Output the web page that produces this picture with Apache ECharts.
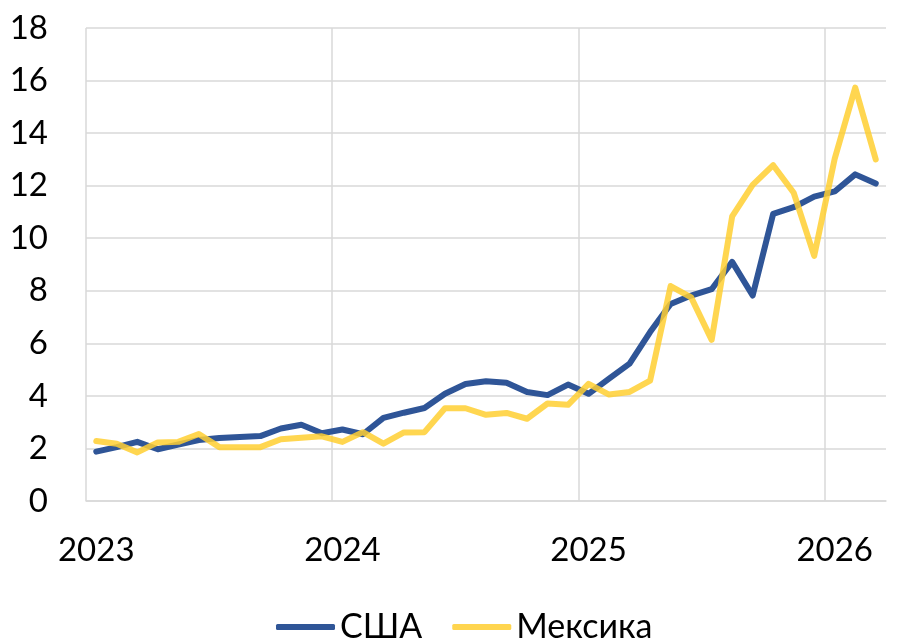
<!DOCTYPE html>
<html>
<head>
<meta charset="utf-8">
<script src="https://cdn.jsdelivr.net/npm/echarts@6/dist/echarts.min.js"></script>
<style>
html, body { margin: 0; padding: 0; background: #fff; }
#chart { width: 897px; height: 639px; }
</style>
</head>
<body>
<div id="chart"></div>
<script>
var months = [
    '2023-01', '2023-02', '2023-03', '2023-04', '2023-05', '2023-06', '2023-07', '2023-08', '2023-09', '2023-10', '2023-11', '2023-12',
    '2024-01', '2024-02', '2024-03', '2024-04', '2024-05', '2024-06', '2024-07', '2024-08', '2024-09', '2024-10', '2024-11', '2024-12',
    '2025-01', '2025-02', '2025-03', '2025-04', '2025-05', '2025-06', '2025-07', '2025-08', '2025-09', '2025-10', '2025-11', '2025-12',
    '2026-01', '2026-02', '2026-03'
];
var usa = [
    1.88, 2.05, 2.25, 1.97, 2.15, 2.32, 2.4, 2.44, 2.47, 2.76, 2.9, 2.58,
    2.72, 2.54, 3.16, 3.36, 3.54, 4.08, 4.45, 4.56, 4.5, 4.15, 4.03, 4.43,
    4.08, 4.66, 5.23, 6.43, 7.5, 7.82, 8.06, 9.1, 7.82, 10.93, 11.18, 11.58,
    11.78, 12.43, 12.08
];
var mexico = [
    2.28, 2.18, 1.85, 2.23, 2.25, 2.55, 2.05, 2.05, 2.05, 2.35, 2.41, 2.46,
    2.25, 2.62, 2.18, 2.61, 2.62, 3.53, 3.53, 3.28, 3.35, 3.13, 3.71, 3.66,
    4.46, 4.05, 4.15, 4.58, 8.18, 7.75, 6.13, 10.83, 12.03, 12.78, 11.73, 9.33,
    13.03, 15.73, 13.0
];

var labelFont = 'Lato, "Noto Sans", sans-serif';
var gridGray = '#d9d9d9';
var chart = echarts.init(document.getElementById('chart'));
var option = {
    animation: false,
    grid: {
        left: 86,
        right: 11,
        top: 28,
        bottom: 138
    },
    legend: {
        top: 605,
        left: 271,
        itemWidth: 59,
        itemHeight: 6,
        itemGap: 30,
        icon: 'roundRect',
        textStyle: {
            fontFamily: labelFont,
            fontSize: 34,
            color: '#000'
        },
        data: ['США', 'Мексика']
    },
    xAxis: {
        type: 'category',
        data: months,
        boundaryGap: true,
        axisLine: { show: true, lineStyle: { color: gridGray, width: 1.5 } },
        axisTick: { show: false },
        axisLabel: {
            interval: 11,
            margin: 33,
            fontFamily: labelFont,
            fontSize: 33,
            color: '#000',
            formatter: function (v) { return v.substring(0, 4); }
        },
        splitLine: {
            show: true,
            interval: 11,
            // last colour hides the closing line on the right edge
            lineStyle: { color: [gridGray, gridGray, gridGray, gridGray, 'rgba(255,255,255,0)'], width: 1.5 }
        }
    },
    yAxis: {
        type: 'value',
        min: 0,
        max: 18,
        interval: 2,
        axisLine: { show: false },
        axisTick: { show: false },
        axisLabel: {
            margin: 38,
            fontFamily: labelFont,
            fontSize: 33,
            color: '#000'
        },
        splitLine: { lineStyle: { color: gridGray, width: 1.5 } }
    },
    series: [
        {
            name: 'США',
            type: 'line',
            data: usa,
            showSymbol: false,
            symbol: 'none',
            color: '#2f5597',
            lineStyle: { width: 6, color: '#2f5597', cap: 'round', join: 'round' }
        },
        {
            name: 'Мексика',
            type: 'line',
            data: mexico,
            showSymbol: false,
            symbol: 'none',
            color: '#ffd54f',
            lineStyle: { width: 6, color: 'rgba(255,207,49,0.85)', cap: 'round', join: 'round' }
        }
    ]
};
chart.setOption(option);
</script>
</body>
</html>
